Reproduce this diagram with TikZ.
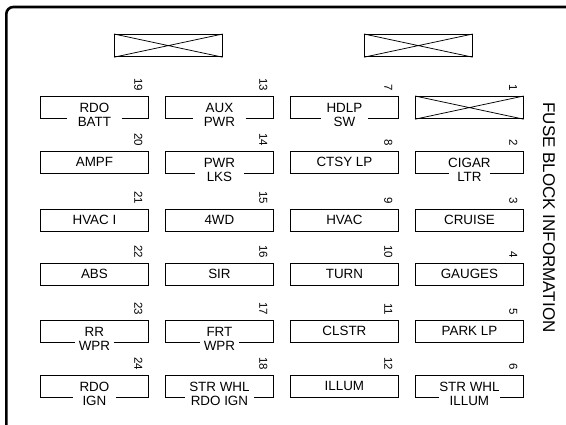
\documentclass[tikz,border=0pt]{standalone}
\usepackage{fontspec}
\setmainfont{Liberation Sans}
\tikzset{
  fusebox/.style={draw, line width=1.35pt, minimum width=107.5pt, minimum height=22pt, inner sep=0pt, anchor=north west},
  crossbox/.style={fusebox, line width=1.2pt},
  crossline/.style={line width=0.75pt},
  flbl/.style={font=\fontsize{13.4}{15}\selectfont, inner sep=0pt, anchor=base},
  flow/.style={flbl, fill=white, inner xsep=#1, inner ysep=0pt, text height=10pt, text depth=3pt},
  fnum/.style={font=\fontsize{11.5}{12}\selectfont, inner sep=0pt, rotate=-90, anchor=east},
  frame/.style={line width=2.6pt, rounded corners=7pt},
  titletext/.style={font=\fontsize{17}{20}\selectfont, inner sep=0pt, rotate=-90}
}
\newcommand\fsingle[5]{%
  \node[fusebox] (b#1) at (#2,#3) {};
  \node[flbl] (t#1) at ([yshift=-15.8pt]b#1.north) {#4};
  \node[fnum] (n#1) at ([xshift=-10.5pt,yshift=4.5pt]b#1.north east) {#5};
}
\newcommand\fdouble[7]{%
  \node[fusebox] (b#1) at (#2,#3) {};
  \node[flbl] (t#1) at ([yshift=-16.3pt]b#1.north) {#4};
  \node[flow=#7] (u#1) at ([yshift=-31pt]b#1.north) {#5};
  \node[fnum] (n#1) at ([xshift=-10.5pt,yshift=4.5pt]b#1.north east) {#6};
}
\begin{document}
\begin{tikzpicture}[x=1pt,y=-1pt]
\fill[white] (0,0) rectangle (566,425);
\useasboundingbox (0,0) rectangle (566,425);
% outer frame
\draw[frame] (6.3,427) -- (6.3,7) -- (568,7);
% top crossed boxes
\node[crossbox] (xa) at (114,34) {};
\draw[crossline] (xa.north west) -- (xa.south east) (xa.south west) -- (xa.north east);
\node[crossbox] (xb) at (364,34) {};
\draw[crossline] (xb.north west) -- (xb.south east) (xb.south west) -- (xb.north east);
% column 1
\fdouble{19}{40}{96}{RDO}{BATT}{19}{11pt}
\fsingle{20}{40}{151}{AMPF}{20}
\fsingle{21}{40}{209}{HVAC I}{21}
\fsingle{22}{40}{263}{ABS}{22}
\fdouble{23}{40}{320}{RR}{WPR}{23}{4pt}
\fdouble{24}{40}{375}{RDO}{IGN}{24}{10pt}
% column 2
\fdouble{13}{165}{96}{AUX}{PWR}{13}{11pt}
\fdouble{14}{165}{151}{PWR}{LKS}{14}{12pt}
\fsingle{15}{165}{209}{4WD}{15}
\fsingle{16}{165}{263}{SIR}{16}
\fdouble{17}{165}{320}{FRT}{WPR}{17}{4pt}
\fdouble{18}{165}{375}{STR WHL}{RDO IGN}{18}{6pt}
% column 3
\fdouble{7}{290}{96}{HDLP}{SW}{7}{13pt}
\fsingle{8}{290}{151}{CTSY LP}{8}
\fsingle{9}{290}{209}{HVAC}{9}
\fsingle{10}{290}{263}{TURN}{10}
\fsingle{11}{290}{320}{CLSTR}{11}
\fsingle{12}{290}{375}{ILLUM}{12}
% column 4
\node[crossbox] (b1) at (415,96) {};
\draw[crossline] (b1.north west) -- (b1.south east) (b1.south west) -- (b1.north east);
\node[fnum] (n1) at ([xshift=-10.5pt,yshift=4.5pt]b1.north east) {1};
\fdouble{2}{415}{151}{CIGAR}{LTR}{2}{8pt}
\fsingle{3}{415}{209}{CRUISE}{3}
\fsingle{4}{415}{263}{GAUGES}{4}
\fsingle{5}{415}{320}{PARK LP}{5}
\fdouble{6}{415}{375}{STR WHL}{ILLUM}{6}{11pt}
% title
\node[titletext] (title) at (549,217.5) {FUSE BLOCK INFORMATION};
\end{tikzpicture}
\end{document}
